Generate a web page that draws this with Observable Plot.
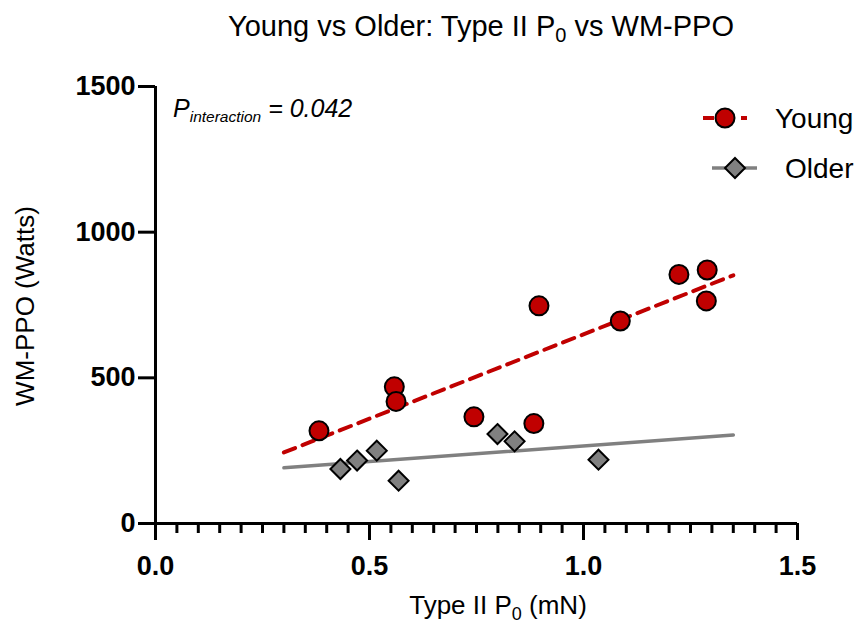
<!DOCTYPE html>
<html><head><meta charset="utf-8">
<script src="https://cdn.jsdelivr.net/npm/d3@7"></script>
<script src="https://cdn.jsdelivr.net/npm/@observablehq/plot@0.6"></script>
<style>body{margin:0;background:#fff;} svg{display:block;}</style>
</head><body><div id="chart"></div>
<script>
// ---- data ----
const youngX = [0.382, 0.558, 0.562, 0.744, 0.884, 0.896, 1.086, 1.223, 1.289, 1.287];
const youngY = [318, 469, 419, 366, 343, 747, 695, 855, 870, 764];
const olderX = [0.432, 0.471, 0.517, 0.568, 0.799, 0.839, 1.035];
const olderY = [187, 216, 250, 147, 307, 282, 219];
const fitX = [0.30, 1.35];
const youngFitY = [244, 852];
const olderFitY = [191, 304];
const xTicks = [0, 0.5, 1.0, 1.5];
const xMinorTicks = d3.range(0, 31).map(i => i / 20);
const yTicks = [0, 500, 1000, 1500];
const seriesNames = ["Young", "Older"];
const colors = {Young: "#c00000", Older: "#808080"};

const young = youngX.map((x, i) => ({x, y: youngY[i]}));
const older = olderX.map((x, i) => ({x, y: olderY[i]}));
const youngFit = fitX.map((x, i) => ({x, y: youngFitY[i]}));
const olderFit = fitX.map((x, i) => ({x, y: olderFitY[i]}));

const FONT = "'Liberation Sans', Arial, sans-serif";

const chart = Plot.plot({
  width: 859, height: 629,
  marginLeft: 155, marginRight: 62, marginTop: 86, marginBottom: 106,
  style: {fontFamily: FONT, background: "#fff", color: "#000"},
  x: {domain: [0, 1.5]},
  y: {domain: [0, 1500]},
  marks: [
    // minor x ticks (10 px) and major x / y ticks (17 px), drawn as rules hanging off the axes
    Plot.ruleX(xMinorTicks, {x: d => d, y1: 0, y2: 0, insetBottom: -10, stroke: "#000", strokeWidth: 3}),
    Plot.ruleX(xTicks, {x: d => d, y1: 0, y2: 0, insetBottom: -17, stroke: "#000", strokeWidth: 3}),
    Plot.ruleY(yTicks, {y: d => d, x1: 0, x2: 0, insetLeft: -17, stroke: "#000", strokeWidth: 3}),
    Plot.axisX({ticks: xTicks, tickSize: 0, tickPadding: 32, tickFormat: d3.format(".1f"), fontSize: 27, fontWeight: "bold", label: null}),
    Plot.axisY({ticks: yTicks, tickSize: 0, tickPadding: 20, tickFormat: d3.format("d"), fontSize: 27, fontWeight: "bold", label: null}),
    Plot.ruleY([0], {strokeWidth: 3}),
    Plot.ruleX([0], {strokeWidth: 3}),
    Plot.line(olderFit, {x: "x", y: "y", stroke: colors.Older, strokeWidth: 3.5}),
    Plot.line(youngFit, {x: "x", y: "y", stroke: colors.Young, strokeWidth: 4, strokeDasharray: "12,8"}),
    Plot.dot(older, {x: "x", y: "y", symbol: "diamond2", r: 9, fill: colors.Older, stroke: "#000", strokeWidth: 2}),
    Plot.dot(young, {x: "x", y: "y", r: 9.5, fill: colors.Young, stroke: "#000", strokeWidth: 2})
  ]
});
document.getElementById("chart").appendChild(chart);

const svg = d3.select(chart);
svg.selectAll('g[aria-label$="-axis tick label"]').attr("fill", "#000");

const g = svg.append("g").attr("font-family", FONT).attr("fill", "#000").attr("text-anchor", "start");

// title
const t = g.append("text").attr("x", 481).attr("y", 36).attr("text-anchor", "middle").attr("font-size", 29);
t.append("tspan").text("Young vs Older: Type II P");
t.append("tspan").attr("font-size", 20).attr("dy", 6).text("0");
t.append("tspan").attr("dy", -6).text(" vs WM-PPO");

// x label
const xl = g.append("text").attr("x", 498).attr("y", 614).attr("text-anchor", "middle").attr("font-size", 26);
xl.append("tspan").text("Type II P");
xl.append("tspan").attr("font-size", 18).attr("dy", 6).text("0");
xl.append("tspan").attr("dy", -6).text(" (mN)");

// y label
g.append("text").attr("transform", "translate(34,306) rotate(-90)").attr("text-anchor", "middle")
  .attr("font-size", 26).text("WM-PPO (Watts)");

// P interaction
const p = g.append("text").attr("x", 173).attr("y", 117).attr("font-size", 25).attr("font-style", "italic");
p.append("tspan").text("P");
p.append("tspan").attr("font-size", 15.5).attr("dy", 5).text("interaction");
p.append("tspan").attr("dy", -5).text(" = 0.042");

// legend
const leg = g.append("g");
leg.append("line").attr("x1", 703).attr("x2", 747).attr("y1", 118).attr("y2", 118)
  .attr("stroke", colors.Young).attr("stroke-width", 4).attr("stroke-dasharray", "11,8");
leg.append("circle").attr("cx", 725).attr("cy", 118).attr("r", 9.5).attr("fill", colors.Young).attr("stroke", "#000").attr("stroke-width", 2);
leg.append("text").attr("x", 775).attr("y", 128).attr("font-size", 28).text(seriesNames[0]);
leg.append("line").attr("x1", 712).attr("x2", 757).attr("y1", 168).attr("y2", 168)
  .attr("stroke", colors.Older).attr("stroke-width", 3.5);
leg.append("path").attr("d", d3.symbol(d3.symbolDiamond2, Math.PI * 81)()).attr("transform", "translate(735,168)")
  .attr("fill", colors.Older).attr("stroke", "#000").attr("stroke-width", 2);
leg.append("text").attr("x", 785).attr("y", 178).attr("font-size", 28).text(seriesNames[1]);
</script>
</body></html>
